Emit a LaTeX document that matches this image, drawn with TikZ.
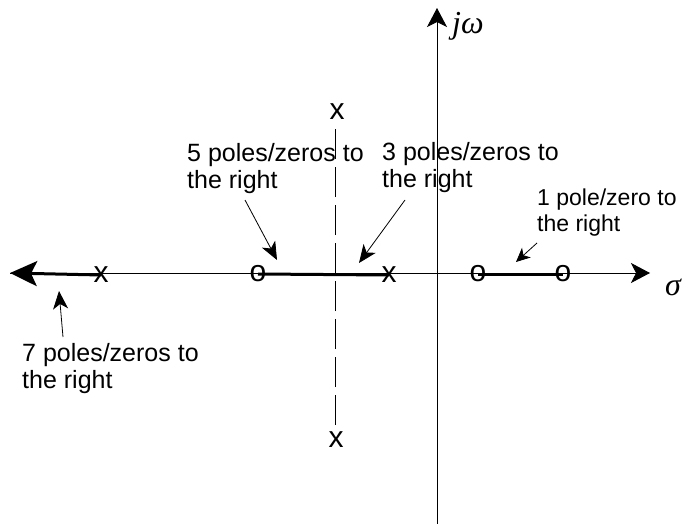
\documentclass[tikz,border=0pt]{standalone}
\usepackage{fontspec}
\setmainfont{Liberation Sans}
\newfontfamily\axisfont{Liberation Serif}
\usetikzlibrary{arrows.meta}
\tikzset{
  axis/.style={line width=0.9pt},
  locus/.style={line width=3pt},
  marker/.style={inner sep=0pt, font=\fontsize{30}{30}\selectfont},
  note/.style={anchor=north west, align=left, inner sep=0pt, font=\fontsize{25}{27}\selectfont},
  axislabel/.style={font=\fontsize{32}{32}\selectfont\axisfont\itshape},
  pointer/.style={line width=0.8pt, -{Stealth[length=18pt,width=15pt,inset=5pt]}},
}
\begin{document}
\begin{tikzpicture}[x=1pt,y=-1pt]
    \useasboundingbox (0,0) rectangle (685,524);
    % axes
    \coordinate (wl) at (10,273);
    \coordinate (wr) at (650,273);
    \coordinate (jb) at (437,524);
    \coordinate (jt) at (437,8);
    \draw[axis, -{Stealth[length=19pt,width=20pt,inset=5pt]}] (wl) -- (wr);
    \draw[axis, -{Stealth[length=19pt,width=20pt,inset=5pt]}] (jb) -- (jt);
    \node[axislabel, inner sep=0pt] (sig) at (673,287) {σ};
    \node[axislabel, inner sep=0pt, anchor=west] (jw) at (452,26) {jω};

    % poles and zeros
    \node[marker] (p1) at (101,275) {x};
    \node[marker] (p2) at (389,275) {x};
    \node[marker] (p3) at (337,112) {x};
    \node[marker] (p4) at (336,440) {x};
    \node[marker] (z1) at (258,274) {o};
    \node[marker] (z2) at (478,274) {o};
    \node[marker] (z3) at (563,274) {o};

    % symmetry line
    \draw[line width=0.8pt, dash pattern=on 30pt off 8pt] (335,425) -- (335,125);

    % locus on the real axis
    \draw[locus, -{Stealth[length=27pt,width=25pt,inset=6pt]}] (p1.center) -- (wl);
    \draw[locus] (z1.center) -- (p2.center);
    \draw[locus] (z2.center) -- (z3.center);

    % labels
    \node[note] (n5) at (187,143) {5 poles/zeros to\\the right};
    \node[note] (n3) at (382,142) {3 poles/zeros to\\the right};
    \node[note, font=\fontsize{23}{26}\selectfont] (n1) at (537,189) {1 pole/zero to\\the right};
    \node[note] (n7) at (22,343) {7 poles/zeros to\\the right};

    \coordinate (t5) at (245,200);
    \coordinate (h5) at (277,260);
    \coordinate (t3) at (405,200);
    \coordinate (h3) at (359,263);
    \coordinate (t1) at (537,243);
    \coordinate (h1) at (516,262);
    \coordinate (t7) at (63,337);
    \coordinate (h7) at (59,291);
    \draw[pointer] (t5) -- (h5);
    \draw[pointer] (t3) -- (h3);
    \draw[pointer, -{Stealth[length=14pt,width=13pt,inset=4pt]}] (t1) -- (h1);
    \draw[pointer] (t7) -- (h7);
\end{tikzpicture}
\end{document}
